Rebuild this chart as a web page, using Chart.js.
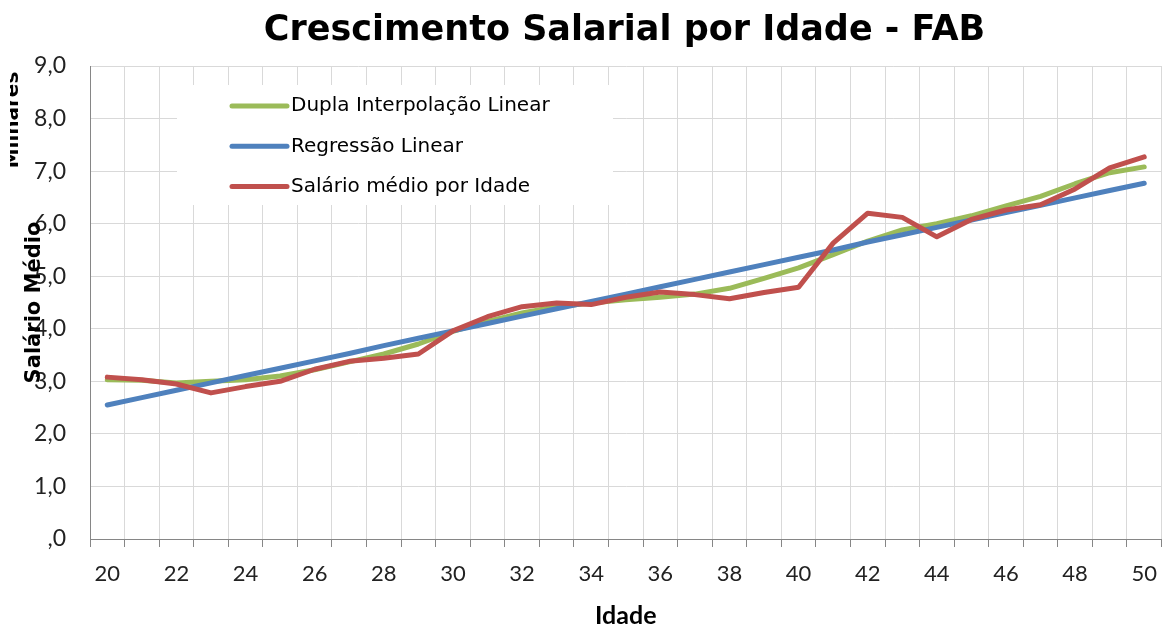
<!DOCTYPE html>
<html>
<head>
<meta charset="utf-8">
<script src="https://cdn.jsdelivr.net/npm/chart.js@4.4.1/dist/chart.umd.min.js"></script>
<style>
  html, body { margin: 0; padding: 0; background: #ffffff; }
  #wrap { width: 1171px; height: 624px; }
</style>
</head>
<body>
<div id="wrap"><canvas id="c" width="1171" height="624"></canvas></div>
<script>
// ---- data ----
const ages = [20,21,22,23,24,25,26,27,28,29,30,31,32,33,34,35,36,37,38,39,40,41,42,43,44,45,46,47,48,49,50];
const duplaInterpolacao = [3.03,3.02,2.97,3.00,3.03,3.10,3.22,3.37,3.52,3.71,3.95,4.14,4.30,4.42,4.49,4.55,4.60,4.66,4.77,4.96,5.16,5.41,5.67,5.88,6.00,6.15,6.34,6.52,6.76,6.97,7.08];
const regressaoLinear = [2.55,2.69,2.83,2.97,3.11,3.25,3.39,3.53,3.68,3.82,3.96,4.10,4.24,4.38,4.52,4.66,4.80,4.94,5.08,5.22,5.36,5.50,5.65,5.79,5.93,6.07,6.21,6.35,6.49,6.63,6.77];
const salarioMedio = [3.08,3.03,2.95,2.78,2.90,3.00,3.23,3.38,3.44,3.52,3.96,4.23,4.42,4.49,4.46,4.60,4.70,4.65,4.57,4.69,4.79,5.63,6.20,6.12,5.75,6.08,6.26,6.36,6.66,7.06,7.27];
const yTickLabels = [',0','1,0','2,0','3,0','4,0','5,0','6,0','7,0','8,0','9,0'];
const seriesNames = ['Dupla Interpolação Linear','Regressão Linear','Salário médio por Idade'];
const seriesColors = ['#9BBB59','#4F81BD','#C0504D'];
const chartTitle = 'Crescimento Salarial por Idade - FAB';
const xTitle = 'Idade';
const yTitle = 'Salário Médio';
const yUnit = 'Milhares';

// ---- plugins ----
const overlayPlugin = {
  id: 'overlay',
  afterDatasetsDraw(chart) {
    const ctx = chart.ctx;
    const a = chart.chartArea;
    // legend box
    const bx = a.left + 87, by = a.top + 19, bw = 436, bh = 120;
    ctx.save();
    ctx.fillStyle = '#ffffff';
    ctx.fillRect(bx, by, bw, bh);
    ctx.font = '20px "DejaVu Sans"';
    ctx.textBaseline = 'middle';
    ctx.textAlign = 'left';
    seriesNames.forEach((name, i) => {
      const y = by + 21 + i * 40.3;
      ctx.strokeStyle = seriesColors[i];
      ctx.lineWidth = 5;
      ctx.lineCap = 'round';
      ctx.beginPath();
      ctx.moveTo(bx + 55, y);
      ctx.lineTo(bx + 110, y);
      ctx.stroke();
      ctx.fillStyle = '#000000';
      ctx.fillText(name, bx + 114, y);
    });
    ctx.restore();
  },
  afterDraw(chart) {
    const ctx = chart.ctx;
    ctx.save();
    ctx.fillStyle = '#000000';
    // chart title (offset to the right of the canvas centre, as in the reference)
    ctx.font = 'bold 35px "DejaVu Sans"';
    ctx.textAlign = 'center';
    ctx.textBaseline = 'alphabetic';
    ctx.fillText(chartTitle, 624.5, 40);
    // y axis title (overlapping tick labels, as in the reference)
    ctx.font = 'bold 21px "DejaVu Sans"';
    ctx.save();
    ctx.translate(40, 302.5);
    ctx.rotate(-Math.PI / 2);
    ctx.fillText(yTitle, 0, 0);
    ctx.restore();
    // units label, partially clipped at the left
    ctx.font = 'bold 20px "DejaVu Sans"';
    ctx.save();
    ctx.beginPath();
    ctx.rect(10, 0, 60, 624);
    ctx.clip();
    ctx.translate(17.5, 120);
    ctx.rotate(-Math.PI / 2);
    ctx.fillText(yUnit, 0, 0);
    ctx.restore();
    ctx.restore();
  }
};

const ctx = document.getElementById('c').getContext('2d');
new Chart(ctx, {
  type: 'line',
  data: {
    labels: ages,
    datasets: [
      { label: seriesNames[0], data: duplaInterpolacao, borderColor: seriesColors[0], backgroundColor: seriesColors[0], borderWidth: 5, pointRadius: 0, tension: 0, order: 2, borderCapStyle: 'round', borderJoinStyle: 'round' },
      { label: seriesNames[1], data: regressaoLinear, borderColor: seriesColors[1], backgroundColor: seriesColors[1], borderWidth: 5, pointRadius: 0, tension: 0, order: 1, borderCapStyle: 'round', borderJoinStyle: 'round' },
      { label: seriesNames[2], data: salarioMedio, borderColor: seriesColors[2], backgroundColor: seriesColors[2], borderWidth: 5, pointRadius: 0, tension: 0, order: 0, borderCapStyle: 'round', borderJoinStyle: 'round' }
    ]
  },
  options: {
    responsive: false,
    animation: false,
    events: [],
    layout: { padding: { left: 0, right: 0, top: 66, bottom: 0 } },
    plugins: {
      legend: { display: false },
      tooltip: { enabled: false },
      title: { display: false }
    },
    scales: {
      x: {
        type: 'category',
        offset: true,
        grid: { offset: true, color: '#d9d9d9', lineWidth: 1, tickLength: 8, tickColor: '#868686', drawTicks: true },
        border: { display: true, color: '#868686', width: 1 },
        ticks: {
          autoSkip: false,
          maxRotation: 0,
          minRotation: 0,
          padding: 14,
          color: '#222222',
          font: { family: 'Lato', size: 22 },
          callback: function(value, index) { return index % 2 === 0 ? String(ages[index]) : ''; }
        },
        title: {
          display: true,
          text: xTitle,
          color: '#000000',
          font: { family: 'Lato', size: 25, weight: 'bold', lineHeight: 1.2 },
          padding: { top: 0, bottom: -7 }
        },
        afterFit(scale) { scale.height = 85; }
      },
      y: {
        min: 0,
        max: 9,
        grid: { color: '#d9d9d9', lineWidth: 1, drawTicks: false },
        border: { display: true, color: '#868686', width: 1 },
        ticks: {
          stepSize: 1,
          padding: 24,
          color: '#222222',
          font: { family: 'Lato', size: 23 },
          callback: function(value) { return yTickLabels[Math.round(value)]; }
        },
        afterFit(scale) { scale.width = 90; }
      }
    }
  },
  plugins: [overlayPlugin]
});
</script>
</body>
</html>
